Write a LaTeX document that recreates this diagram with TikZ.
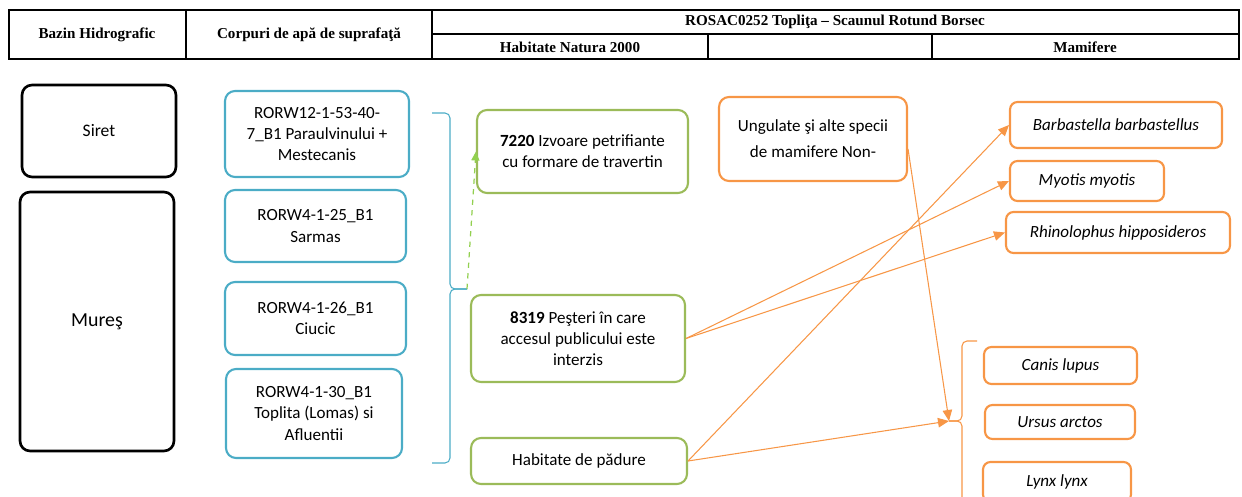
\documentclass[tikz,border=0pt]{standalone}
\usepackage{fontspec}
\setmainfont{Carlito}
\newfontfamily\headfont{Liberation Serif}
\usetikzlibrary{arrows.meta, positioning}

\definecolor{wblue}{HTML}{4BACC6}
\definecolor{hgreen}{HTML}{9BBB59}
\definecolor{lgreen}{HTML}{92D050}
\definecolor{morange}{HTML}{F79646}

\begin{document}
\begin{tikzpicture}[
    x=0.02cm, y=-0.02cm,
    box/.style={draw, rounded corners=2mm, line width=1.2pt, align=center, inner sep=0pt, font=\fontsize{9.7}{12}\selectfont},
    basin/.style={box, draw=black, line width=1.5pt},
    water/.style={box, draw=wblue},
    habitat/.style={box, draw=hgreen},
    species/.style={box, draw=morange, rounded corners=1.5mm, font=\fontsize{9.7}{12}\selectfont\itshape},
    head/.style={font=\headfont\bfseries\fontsize{8.6}{10}\selectfont},
    arr/.style={-{Triangle[length=2.2mm,width=1.9mm]}, morange, line width=0.6pt},
    brace/.style={rounded corners=1mm, line width=0.6pt}
]
\useasboundingbox (0,0) rectangle (1242,497);
\clip (0,0) rectangle (1242,497);

% header table
\draw[line width=0.8pt] (9,10) rectangle (1239,59);
\draw[line width=0.8pt] (186,10) -- (186,59) (432,10) -- (432,59)
    (432,34) -- (1239,34) (708,34) -- (708,59) (932,34) -- (932,59);
\node[head] (hbazin) at (97,35) {Bazin Hidrografic};
\node[head] (hcorp) at (309,35) {Corpuri de apă de suprafaţă};
\node[head] (hsite) at (835,22) {ROSAC0252 Topliţa – Scaunul Rotund Borsec};
\node[head] (hnatura) at (570,47) {Habitate Natura 2000};
\node[head] (hmam) at (1085,47) {Mamifere};

% basins
\node[basin, minimum width=3.08cm, minimum height=1.84cm, font=\fontsize{10}{12}\selectfont] (siret) at (99,131) {Siret};
\node[basin, minimum width=3.08cm, minimum height=5.18cm, font=\fontsize{11.3}{13}\selectfont] (mures) at (97,321.5) {Mureş};

% water bodies
\node[water, minimum width=3.68cm, minimum height=1.72cm] (w1) at (317,134) {RORW12-1-53-40-\\7\_B1 Paraulvinului +\\Mestecanis};
\node[water, minimum width=3.62cm, minimum height=1.44cm] (w2) at (315.5,226) {RORW4-1-25\_B1\\Sarmas};
\node[water, minimum width=3.62cm, minimum height=1.46cm] (w3) at (315.5,318.5) {RORW4-1-26\_B1\\Ciucic};
\node[water, minimum width=3.52cm, minimum height=1.78cm] (w4) at (314,413.5) {RORW4-1-30\_B1\\Toplita (Lomas) si\\Afluentii};

% habitats
\node[habitat, minimum width=4.22cm, minimum height=1.66cm] (h7220) at (582.5,151.5) {\textbf{7220} Izvoare petrifiante\\cu formare de travertin};
\node[habitat, minimum width=4.28cm, minimum height=1.74cm] (h8319) at (578,338.5) {\textbf{8319} Peşteri în care\\accesul publicului este\\interzis};
\node[habitat, minimum width=4.32cm, minimum height=0.92cm] (hforest) at (579,461) {Habitate de pădure};

% mammals
\node[box, draw=morange, minimum width=3.76cm, minimum height=1.68cm, font=\fontsize{9.7}{14.8}\selectfont] (ungulate) at (813,139) {Ungulate şi alte specii\\de mamifere Non-};
\node[species, minimum width=4.24cm, minimum height=0.92cm] (barb) at (1116,125) {Barbastella barbastellus};
\node[species, minimum width=3.08cm, minimum height=0.80cm] (myotis) at (1087,181) {Myotis myotis};
\node[species, minimum width=4.48cm, minimum height=0.82cm] (rhino) at (1118,232.5) {Rhinolophus hipposideros};
\node[species, minimum width=3.06cm, minimum height=0.74cm] (canis) at (1060.5,365.5) {Canis lupus};
\node[species, minimum width=3.00cm, minimum height=0.68cm] (ursus) at (1060,422) {Ursus arctos};
\node[species, minimum width=2.96cm, minimum height=0.80cm] (lynx) at (1057,482) {Lynx lynx};

% braces
\coordinate (wtip) at (467,289);
\coordinate (ctip) at (949,421);
\draw[brace, wblue] (432,113) -- (450,113) -- (450,289) -- (wtip);
\draw[brace, wblue] (wtip) -- (450,289) -- (450,463) -- (432,463);
\draw[brace, morange] (977,341) -- (962,341) -- (962,421) -- (ctip);
\draw[brace, morange] (ctip) -- (962,421) -- (962,510);

% connectors
\draw[lgreen, dashed, line width=0.7pt, -{Triangle[length=1.8mm,width=1.6mm]}] (wtip) -- (h7220.west);
\draw[arr] (h8319.east) -- (myotis.west);
\draw[arr] (h8319.east) -- (rhino.west);
\draw[arr] (hforest.east) -- (barb.west);
\draw[arr] (hforest.east) -- (ctip);
\draw[arr] (ungulate.-6) -- (ctip);
\end{tikzpicture}
\end{document}
